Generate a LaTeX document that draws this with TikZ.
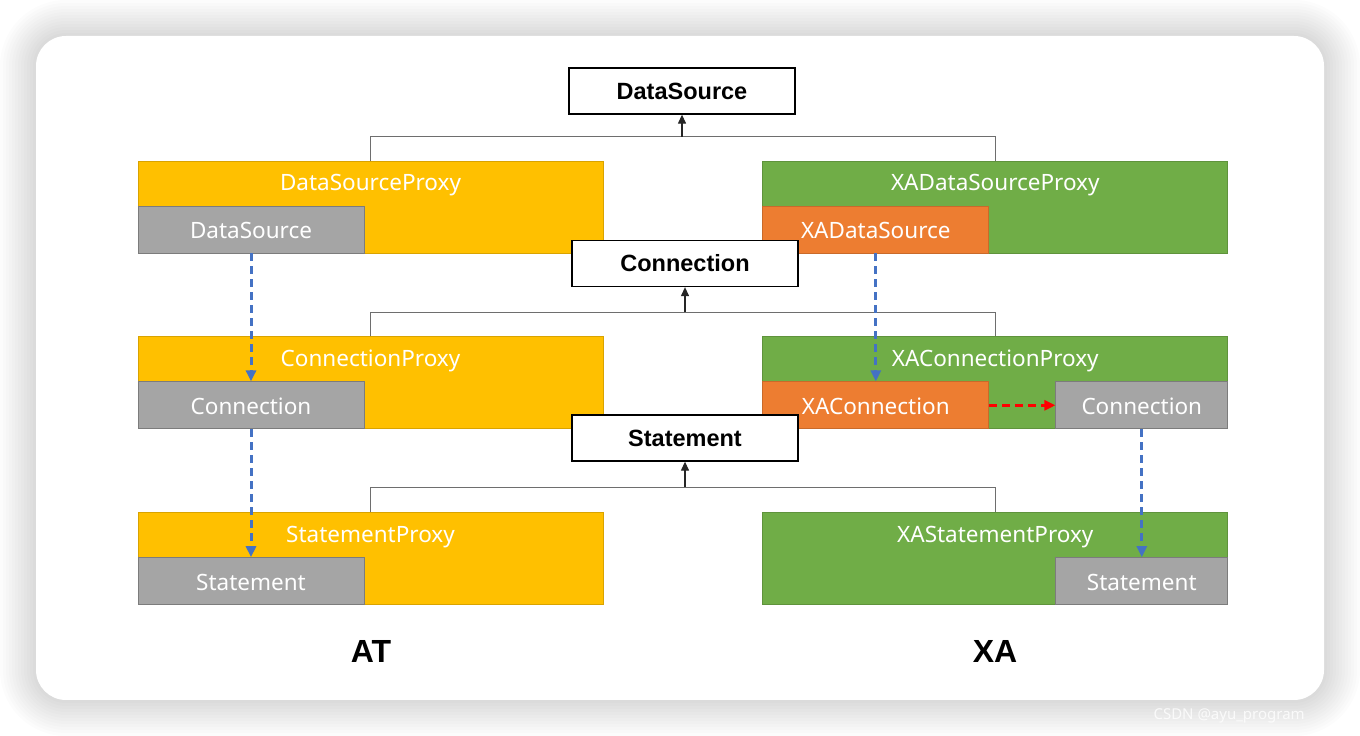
\documentclass[tikz,border=0pt]{standalone}
\usepackage{fontspec}
\setmainfont{Noto Sans}
\newfontfamily\boldface{Liberation Sans}
\usepackage{tikz}
\usetikzlibrary{positioning}
\usetikzlibrary{arrows.meta}
\usetikzlibrary{calc}
\definecolor{ATcol}{RGB}{255,192,0}
\definecolor{XAcol}{RGB}{112,173,71}
\definecolor{Orcol}{RGB}{237,125,49}
\definecolor{Grcol}{RGB}{165,165,165}
\definecolor{Blcol}{RGB}{68,114,196}
\definecolor{Lncol}{RGB}{110,110,110}
\tikzstyle{iface}=[rectangle, draw=black, line width=1.3pt, fill=white, minimum width=226pt, minimum height=46pt, inner sep=0pt, font=\boldface\fontsize{23.5}{28}\selectfont\bfseries]
\tikzstyle{proxy}=[rectangle, line width=0.8pt, minimum width=465pt, minimum height=92pt, inner sep=0pt]
\tikzstyle{AT}=+[proxy, fill=ATcol, draw=ATcol!85!black]
\tikzstyle{XA}=+[proxy, fill=XAcol, draw=XAcol!85!black]
\tikzstyle{headtext}=[minimum height=49pt, inner sep=0pt, text=white, font=\fontsize{22.5}{26}\selectfont]
\tikzstyle{slot}=[rectangle, line width=0.8pt, minimum height=47pt, inner sep=0pt, text height=22pt, text depth=3pt, text=white, font=\fontsize{22.5}{26}\selectfont, anchor=south west]
\tikzstyle{impl}=+[slot, fill=Grcol, draw=Grcol!75!black, minimum width=226pt]
\tikzstyle{wrap}=+[slot, fill=Orcol, draw=Orcol!85!black, minimum width=226pt]
\tikzstyle{branch}=[line width=1pt, draw=Lncol]
\tikzstyle{inherit}=[-{Triangle[length=9pt,width=8pt]}, line width=1.2pt, draw=black!85]
\tikzstyle{calls}=[-{Triangle[length=11pt,width=10pt]}, line width=3pt, dash pattern=on 8pt off 5pt]
\tikzstyle{side}=[font=\boldface\fontsize{32}{38}\selectfont\bfseries]

\begin{document}
\begin{tikzpicture}[x=1pt, y=1pt]
	\useasboundingbox (0,0) rectangle (1360,736);
	\fill[white] (0,0) rectangle (1360,736);
	% card with soft shadow
	\foreach \i in {1,...,12}{
		\pgfmathsetmacro\rad{30+3*\i}
		\fill[black, opacity=0.01, rounded corners=\rad pt] (36-3*\i,36-3*\i) rectangle (1324+3*\i,700+3*\i);
	}
	\fill[white, rounded corners=30pt] (36,36) rectangle (1324,700);
	\node (wm) at (1150,20) [anchor=west, text=white, opacity=0.8, font=\fontsize{15}{18}\selectfont] {CSDN @ayu\_program};
	% proxies
	\node (dsp) at (370.5,529) [AT] {};
	\node (xdsp) [right = 159pt of dsp, XA] {};
	\node (cp) [below = 83pt of dsp, AT] {};
	\node (xcp) [below = 83pt of xdsp, XA] {};
	\node (sp) [below = 83pt of cp, AT] {};
	\node (xsp) [below = 83pt of xcp, XA] {};
	\node (dspT) [below = 0pt of dsp.north, headtext] {DataSourceProxy};
	\node (xdspT) [below = 0pt of xdsp.north, headtext] {XADataSourceProxy};
	\node (cpT) [below = 0pt of cp.north, headtext] {ConnectionProxy};
	\node (xcpT) [below = 0pt of xcp.north, headtext] {XAConnectionProxy};
	\node (spT) [below = 0pt of sp.north, headtext] {StatementProxy};
	\node (xspT) [below = 0pt of xsp.north, headtext] {XAStatementProxy};
	% wrapped objects
	\node (dsi) at (dsp.south west) [impl] {DataSource};
	\node (xdsi) at (xdsp.south west) [wrap] {XADataSource};
	\node (ci) at (cp.south west) [impl] {Connection};
	\node (xci) at (xcp.south west) [wrap] {XAConnection};
	\node (xcc) at (xcp.south east) [impl, anchor=south east, minimum width=172pt] {Connection};
	\node (si) at (sp.south west) [impl] {Statement};
	\node (xsi) at (xsp.south east) [impl, anchor=south east, minimum width=172pt] {Statement};
	% interfaces
	\node (ds) at (682,645) [iface] {DataSource};
	\node (cn) at (685,472.5) [iface] {Connection};
	\node (st) at (685,298) [iface] {Statement};
	\draw[branch] (dsp.north) -- ++(0,24) coordinate (j1) -| (xdsp.north);
	\draw[inherit] (j1 -| ds.south) -- (ds.south);
	\draw[branch] (cp.north) -- ++(0,24) coordinate (j2) -| (xcp.north);
	\draw[inherit] (j2 -| cn.south) -- (cn.south);
	\draw[branch] (sp.north) -- ++(0,25) coordinate (j3) -| (xsp.north);
	\draw[inherit] (j3 -| st.south) -- (st.south);
	% call chain
	\draw[calls, Blcol] (dsi) -- (ci);
	\draw[calls, Blcol] (ci) -- (si);
	\draw[calls, Blcol] (xdsi) -- (xci);
	\draw[calls, Blcol] (xcc) -- (xsi);
	\draw[calls, red] (xci) -- (xcc);
	\node (at) at (371,85) [side] {AT};
	\node (xa) at (995,85) [side] {XA};
\end{tikzpicture}
\end{document}
